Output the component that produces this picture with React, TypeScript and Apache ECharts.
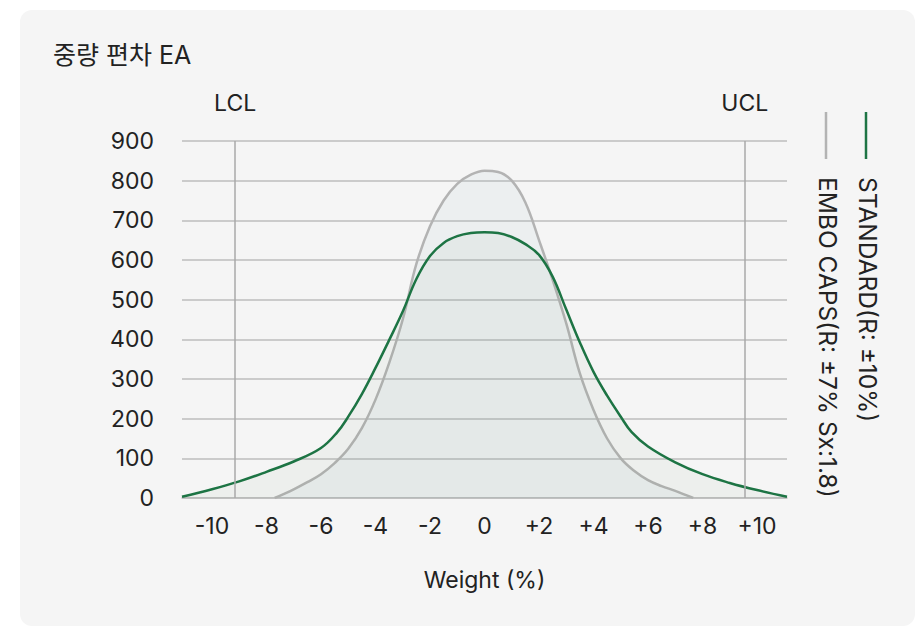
import React, { useEffect, useRef } from "react";
import * as echarts from "echarts";

const titleText = "중량 편차 EA";
const xAxisName = "Weight (%)";

const standardX = [-11.1, -10, -9, -8, -7, -6, -5.4, -5, -4.5, -4, -3.5, -3, -2.5, -2, -1.5, -1, -0.5, 0, 0.5, 1, 1.5, 2, 2.5, 3, 3.5, 4, 4.5, 5, 5.4, 6, 7, 8, 9, 10, 11.1];
const standardValues = [3, 22, 42, 66, 92, 126, 166, 205, 262, 328, 398, 470, 552, 610, 643, 660, 668, 670, 668, 658, 640, 613, 558, 475, 392, 318, 258, 205, 166, 130, 90, 60, 38, 20, 3];

const emboX = [-7.7, -7, -6.5, -6, -5.5, -5, -4.5, -4, -3.5, -3, -2.5, -2, -1.5, -1, -0.5, 0, 0.5, 1, 1.5, 2, 2.5, 3, 3.5, 4, 4.5, 5, 5.5, 6, 6.5, 7, 7.66];
const emboValues = [0, 22, 40, 60, 88, 124, 176, 248, 340, 450, 590, 685, 750, 792, 815, 825, 822, 800, 745, 650, 550, 440, 314, 222, 150, 100, 68, 45, 30, 18, 0];

const xTickValues = [-10, -8, -6, -4, -2, 0, 2, 4, 6, 8, 10];
const xRange = [-11.1, 11.1];
const yMax = 900;
const yStep = 100;

const limitNames = ["LCL", "UCL"];
const limitValues = [-9.15, 9.55];

const legendNames = ["STANDARD(R: ±10%)", "EMBO CAPS(R: ±7% Sx:1.8)"];

const FONT = "Inter, 'Noto Sans CJK KR', 'Noto Sans', sans-serif";
const TEXT = "#222222";
const GREEN = "#1d7444";
const GREY = "#b3b3b3";

export default function App() {
  const ref = useRef<HTMLDivElement>(null);

  useEffect(() => {
    if (!ref.current) return;
    const chart = echarts.init(ref.current, undefined, { renderer: "svg" });

    const pair = (xs: number[], ys: number[]) => xs.map((x, i) => [x, ys[i]]);

    const option: any = {
      animation: false,
      backgroundColor: "transparent",
      title: {
        text: titleText,
        left: 53,
        top: 42,
        padding: 0,
        textStyle: { fontSize: 25, fontWeight: "normal", color: TEXT, fontFamily: FONT },
      },
      grid: { left: 182, right: 136, top: 141, bottom: 129, containLabel: false },
      xAxis: {
        type: "value",
        min: xRange[0],
        max: xRange[1],
        name: xAxisName,
        nameLocation: "middle",
        nameGap: 70,
        nameTextStyle: { fontSize: 23, color: TEXT, fontFamily: FONT },
        axisLine: { show: true, lineStyle: { color: "#bdbdbd", width: 1.5 } },
        axisTick: { show: false },
        splitLine: { show: false },
        axisLabel: {
          customValues: xTickValues,
          fontSize: 23,
          color: TEXT,
          fontFamily: FONT,
          margin: 16,
          formatter: (v: number) => (v > 0 ? "+" + v : String(v)),
        },
      },
      yAxis: {
        type: "value",
        min: 0,
        max: yMax,
        interval: yStep,
        axisLine: { show: false },
        axisTick: { show: false },
        splitLine: { lineStyle: { color: "#bdbdbd", width: 1.5 } },
        axisLabel: { fontSize: 23, color: TEXT, fontFamily: FONT, margin: 28 },
      },
      series: [
        {
          name: legendNames[1],
          type: "line",
          smooth: 0.4,
          symbol: "none",
          data: pair(emboX, emboValues),
          lineStyle: { color: GREY, width: 2.5 },
          areaStyle: { color: "rgba(110,160,175,0.09)" },
          z: 2,
          markLine: {
            silent: true,
            symbol: "none",
            lineStyle: { color: "#a8a8a8", width: 1.5, type: "solid" },
            label: {
              show: true,
              position: "end",
              distance: 27,
              fontSize: 23,
              color: TEXT,
              fontFamily: FONT,
              formatter: (p: any) => p.name,
            },
            data: limitValues.map((v, i) => ({ name: limitNames[i], xAxis: v })),
          },
        },
        {
          name: legendNames[0],
          type: "line",
          smooth: 0.4,
          symbol: "none",
          data: pair(standardX, standardValues),
          lineStyle: { color: GREEN, width: 2.5 },
          areaStyle: { color: "rgba(60,120,70,0.06)" },
          z: 3,
        },
      ],
      graphic: [
        { type: "line", shape: { x1: 866, y1: 112, x2: 866, y2: 159 }, style: { stroke: GREEN, lineWidth: 2.5 } },
        { type: "line", shape: { x1: 826, y1: 112, x2: 826, y2: 159 }, style: { stroke: GREY, lineWidth: 2.5 } },
        {
          type: "text",
          x: 868,
          y: 177,
          rotation: -Math.PI / 2,
          style: { text: legendNames[0], fontSize: 24.5, fill: TEXT, fontFamily: FONT, textAlign: "left", textVerticalAlign: "middle" },
        },
        {
          type: "text",
          x: 828,
          y: 177,
          rotation: -Math.PI / 2,
          style: { text: legendNames[1], fontSize: 24.5, fill: TEXT, fontFamily: FONT, textAlign: "left", textVerticalAlign: "middle" },
        },
      ],
    };

    chart.setOption(option);
    return () => chart.dispose();
  }, []);

  return (
    <>
      <div
        style={{
          position: "absolute",
          left: 20,
          top: 10,
          width: 895,
          height: 616,
          borderRadius: 12,
          background: "#f5f5f5",
        }}
      />
      <div ref={ref} style={{ position: "absolute", left: 0, top: 0, width: 923, height: 627 }} />
    </>
  );
}
